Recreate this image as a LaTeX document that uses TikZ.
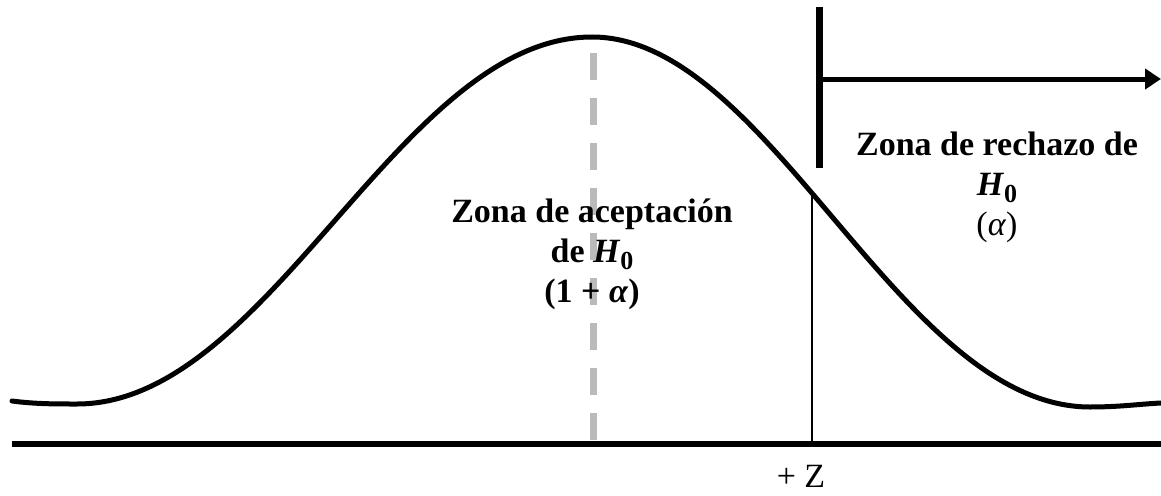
\documentclass[tikz,border=0pt]{standalone}
\usepackage{fontspec}
\setmainfont{Liberation Serif}
\usetikzlibrary{arrows.meta}
\newcommand\Hcero{\textit{H}\raisebox{-0.22em}{\fontsize{26}{26}\selectfont 0}}

\begin{document}
\begin{tikzpicture}[x=1pt,y=-1pt,
 curva/.style={line width=5pt,line cap=round,line join=round},
 eje/.style={line width=6pt},
 media/.style={line width=7pt,draw=black!27,dash pattern=on 27pt off 18pt,dash phase=32pt},
 zona/.style={align=center,font=\fontsize{34}{40}\selectfont\bfseries,inner sep=0pt,anchor=base},
 a/.style={-{Triangle[length=16pt,width=20pt]},line width=5pt}]
\useasboundingbox (0,0) rectangle (1161,495);
% mean
\coordinate (m0) at (593,40); \coordinate (m1) at (593,440);
\draw[media] (m0) -- (m1);
% bell curve
\draw[curva] (12,401) .. controls (35,404) and (55,404) .. (77,404)
  .. controls (270,404) and (400,37) .. (592,37)
  .. controls (770,37) and (900,407) .. (1090,407)
  .. controls (1120,407) and (1140,404) .. (1161,403);
% axis
\coordinate (e0) at (12,444); \coordinate (e1) at (1161,444);
\draw[eje] (e0) -- (e1);
% critical value
\coordinate (zt) at (812,194); \coordinate (zb) at (812,444);
\draw[line width=1.5pt] (zt) -- (zb);
\node[font=\fontsize{34}{40}\selectfont,inner sep=0pt,anchor=base] (z) at (801,487) {+ Z};
% rejection zone
\coordinate (b0) at (819,7); \coordinate (b1) at (819,168); \coordinate (b2) at (819,79);
\coordinate (r) at (1161,79);
\draw[line width=7pt] (b0) -- (b1);
\draw[a] (b2) -- (r);
% labels
\node[zona] (acep) at (592,302) {Zona de aceptación\\de \Hcero\\(1 + \textit{α})};
\node[zona] (rech) at (997,235) {Zona de rechazo de\\\Hcero\\{\mdseries(\textit{α})}};
\end{tikzpicture}
\end{document}
